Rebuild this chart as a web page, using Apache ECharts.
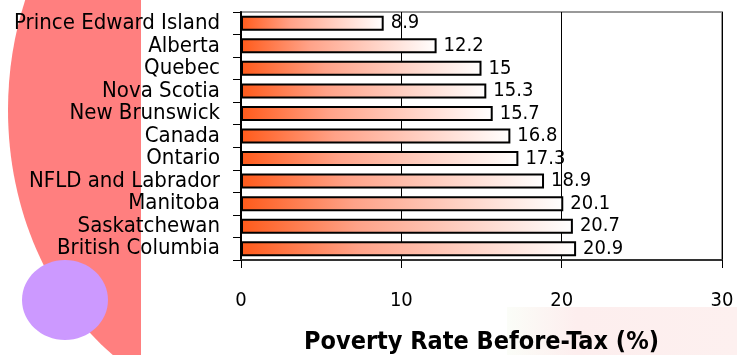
<!DOCTYPE html>
<html>
<head>
<meta charset="utf-8">
<script src="https://cdn.jsdelivr.net/npm/echarts@6/dist/echarts.min.js"></script>
<style>
  html, body { margin: 0; padding: 0; background: #fff; }
  #chart { width: 737px; height: 355px; }
</style>
</head>
<body>
<div id="chart"></div>
<script>
// 省份
var provinces = ['Prince Edward Island', 'Alberta', 'Quebec', 'Nova Scotia', 'New Brunswick',
    'Canada', 'Ontario', 'NFLD and Labrador', 'Manitoba', 'Saskatchewan', 'British Columbia'];
// 税前贫困率 (%)
var povertyRates = [8.9, 12.2, 15, 15.3, 15.7, 16.8, 17.3, 18.9, 20.1, 20.7, 20.9];
var xTicks = [0, 10, 20, 30];
var axisTitle = 'Poverty Rate Before-Tax (%)';

var FONT = '"Liberation Sans Narrow", "DejaVu Sans Condensed", "Liberation Sans", sans-serif';

var chart = echarts.init(document.getElementById('chart'));

var option = {
    animation: false,
    backgroundColor: '#fff',
    graphic: [
        // 左侧大色块
        { type: 'ellipse', z: -10, shape: { cx: 256, cy: 110, rx: 248, ry: 300 }, style: { fill: '#ff7f7f' } },
        { type: 'rect', z: -9, shape: { x: 141, y: 0, width: 600, height: 355 }, style: { fill: '#fff' } },
        { type: 'ellipse', z: -8, shape: { cx: 65, cy: 300, rx: 43, ry: 40 }, style: { fill: '#cc99ff' } },
        // 右下角淡色背景
        { type: 'rect', z: -8, shape: { x: 507, y: 307, width: 230, height: 48 },
          style: { fill: { type: 'linear', x: 0, y: 0, x2: 1, y2: 0, colorStops: [
              { offset: 0, color: '#fbfdf8' }, { offset: 0.3, color: '#fdeeee' },
              { offset: 1, color: '#fdf0ef' }] } } }
    ],
    grid: {
        left: 241, right: 15, top: 12, bottom: 95,
        outerBoundsMode: 'none',
        show: true, borderColor: '#999', borderWidth: 2, backgroundColor: 'transparent'
    },
    xAxis: {
        type: 'value',
        min: 0, max: 30, interval: 10,
        name: axisTitle,
        nameLocation: 'middle',
        nameGap: 70,
        nameTextStyle: { fontFamily: FONT, fontWeight: 'bold', fontSize: 25, color: '#000' },
        axisLine: { show: true, lineStyle: { color: '#333', width: 2 } },
        axisTick: { show: true, length: 8, lineStyle: { color: '#000', width: 1 } },
        axisLabel: {
            margin: 31, fontFamily: FONT, fontSize: 20, color: '#000',
            formatter: function (v) { return xTicks.indexOf(v) > -1 ? String(v) : ''; }
        },
        splitLine: { show: true, lineStyle: { color: '#000', width: 1 } }
    },
    yAxis: {
        type: 'category',
        data: provinces,
        inverse: true,
        axisLine: { show: true, lineStyle: { color: '#000', width: 2 } },
        axisTick: { show: true, length: 8, lineStyle: { color: '#000', width: 1 } },
        axisLabel: { interval: 0, margin: 21, fontFamily: FONT, fontSize: 22, color: '#000' },
        splitLine: { show: false }
    },
    series: [{
        type: 'bar',
        data: povertyRates,
        barWidth: 15,
        itemStyle: {
            borderColor: '#000',
            borderWidth: 2,
            color: {
                type: 'linear', x: 0, y: 0, x2: 1, y2: 0.6,
                colorStops: [
                    { offset: 0, color: '#ff5a1a' },
                    { offset: 0.35, color: '#ffa288' },
                    { offset: 1, color: '#ffffff' }
                ]
            }
        },
        label: {
            show: true, position: 'right', distance: 7,
            fontFamily: FONT, fontSize: 20, color: '#000'
        }
    }]
};

chart.setOption(option);
</script>
</body>
</html>
